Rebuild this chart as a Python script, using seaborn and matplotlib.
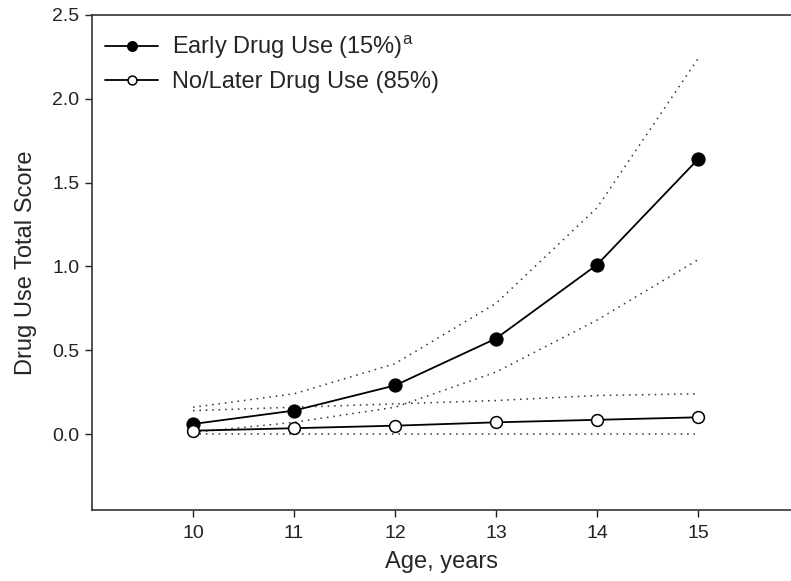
import numpy as np
import pandas as pd
import seaborn as sns
import matplotlib.pyplot as plt

# ages and group trajectories
ages = [10, 11, 12, 13, 14, 15]
early_mean = [0.06, 0.14, 0.29, 0.57, 1.01, 1.64]
early_upper = [0.16, 0.24, 0.42, 0.78, 1.35, 2.24]
early_lower = [0.01, 0.07, 0.16, 0.37, 0.68, 1.04]
later_mean = [0.02, 0.035, 0.05, 0.07, 0.085, 0.10]
later_upper = [0.14, 0.16, 0.18, 0.20, 0.23, 0.24]
later_lower = [0.0, 0.0, 0.0, 0.0, 0.0, 0.0]

early_label = r"Early Drug Use (15%)$^{\mathrm{a}}$"
later_label = "No/Later Drug Use (85%)"

sns.set_theme(style="ticks")
plt.rcParams['font.family'] = ['Liberation Sans', 'DejaVu Sans']
plt.rcParams['mathtext.fontset'] = 'custom'
plt.rcParams['mathtext.rm'] = 'Liberation Sans'

df = pd.DataFrame({
    "age": ages * 2,
    "score": early_mean + later_mean,
    "group": [early_label] * 6 + [later_label] * 6,
})

fig = plt.figure(figsize=(7.91, 5.81), dpi=100)
ax = fig.add_axes([0.1163, 0.1222, 0.8837, 0.852])

# confidence bands as dotted lines
for band in [early_upper, early_lower, later_upper, later_lower]:
    sns.lineplot(x=ages, y=band, ax=ax, color="#333333", lw=1.1,
                 linestyle=(0, (1, 3.2)), legend=False)

sns.lineplot(data=df[df.group == early_label], x="age", y="score", ax=ax,
             color="black", lw=1.3, marker="o", markersize=9.5,
             markerfacecolor="black", markeredgecolor="black",
             label=early_label)
sns.lineplot(data=df[df.group == later_label], x="age", y="score", ax=ax,
             color="black", lw=1.3, marker="o", markersize=8.5,
             markerfacecolor="white", markeredgecolor="black",
             markeredgewidth=1.1, label=later_label)

ax.set_xlim(9.0, 15.92)
ax.set_ylim(-0.453, 2.5)
ax.set_xticks(ages)
ax.set_yticks([0.0, 0.5, 1.0, 1.5, 2.0, 2.5])
ax.set_yticklabels(["0.0", "0.5", "1.0", "1.5", "2.0", "2.5"])
ax.tick_params(labelsize=14, length=5, width=1, colors="#222222")
ax.tick_params(axis="x", pad=6)
ax.tick_params(axis="y", pad=4)
ax.set_xlabel("Age, years", fontsize=17, labelpad=6)
ax.set_ylabel("Drug Use Total Score", fontsize=17, labelpad=11)

for s in ["top", "left", "bottom"]:
    ax.spines[s].set_visible(True)
    ax.spines[s].set_linewidth(1.2)
    ax.spines[s].set_color("#333333")
ax.spines["right"].set_visible(False)

leg = ax.legend(loc="upper left", frameon=False, fontsize=17,
                handlelength=2.25, handletextpad=0.6, borderaxespad=0.15,
                labelspacing=0.45, markerscale=0.75,
                bbox_to_anchor=(0.0, 0.99))

fig.savefig("out.png", dpi=100)
